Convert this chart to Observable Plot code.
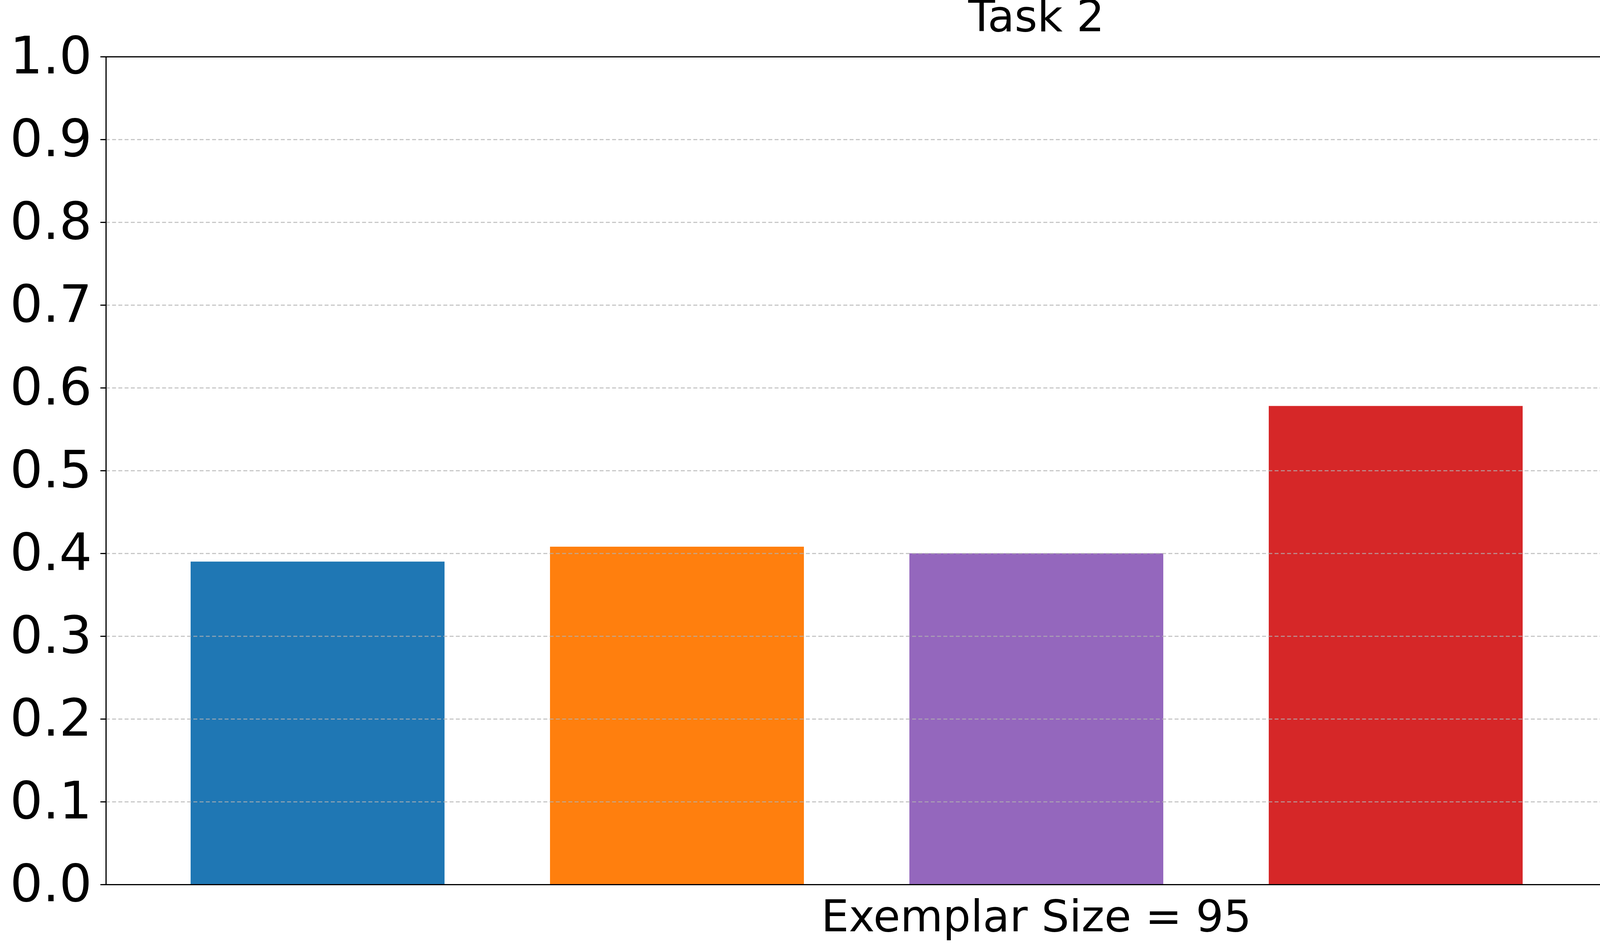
<!DOCTYPE html>
<html>
<head>
<meta charset="utf-8">
<script src="https://cdn.jsdelivr.net/npm/d3@7"></script>
<script src="https://cdn.jsdelivr.net/npm/@observablehq/plot@0.6"></script>
<style>
  html, body { margin: 0; padding: 0; background: white; width: 5069px; height: 2438px; overflow: hidden; }
  svg { display: block; }
</style>
</head>
<body>
<div id="chart"></div>
<script>
const methods = ["A", "B", "C", "D", "E"];
const scores = [0.390, 0.408, 0.400, 0.578, 0.626];
const colors = ["#1f77b4", "#ff7f0e", "#9467bd", "#d62728", "#8c564b"];
const yTicks = [0, 0.1, 0.2, 0.3, 0.4, 0.5, 0.6, 0.7, 0.8, 0.9, 1.0];
const gridTicks = yTicks.slice(1, -1);

const data = methods.map((m, i) => ({ method: m, score: scores[i], color: colors[i] }));

const chart = Plot.plot({
  width: 5069,
  height: 2438,
  marginTop: 145,
  marginBottom: 173,
  marginLeft: 271,
  marginRight: 35,
  style: { fontFamily: "DejaVu Sans", background: "white", color: "black" },
  x: { domain: methods, paddingInner: 0.294, paddingOuter: 0.233, axis: null },
  y: { domain: [0, 1], ticks: yTicks, tickFormat: d3.format(".1f") },
  marks: [
    Plot.barY(data, { x: "method", y: "score", fill: "color" }),
    Plot.ruleY(gridTicks, { stroke: "#b0b0b0", strokeOpacity: 0.7, strokeWidth: 3, strokeDasharray: "10,6" }),
    Plot.axisY({ ticks: yTicks, tickFormat: d3.format(".1f"), tickSize: 14, tickPadding: 22, fontSize: 132, strokeWidth: 3, label: null }),
    Plot.frame({ stroke: "black", strokeWidth: 3 }),
    Plot.text(["Task 2"], { frameAnchor: "top", dy: -66, lineAnchor: "bottom", fontSize: 112, fill: "black" }),
    Plot.text(["Exemplar Size = 95"], { frameAnchor: "bottom", dy: 40, lineAnchor: "top", fontSize: 112, fill: "black" })
  ]
});

document.getElementById("chart").appendChild(chart);
</script>
</body>
</html>
